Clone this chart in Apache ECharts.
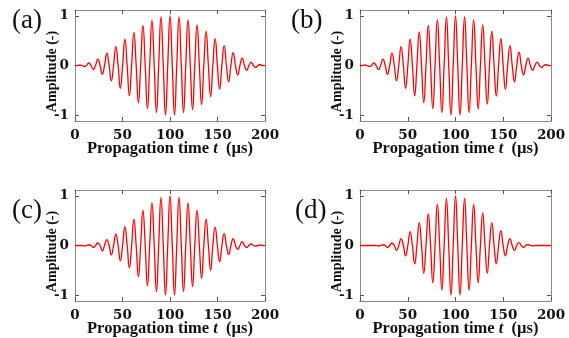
<!DOCTYPE html>
<html>
<head>
<meta charset="utf-8">
<script src="https://cdn.jsdelivr.net/npm/echarts@6/dist/echarts.min.js"></script>
<style>
  html, body { margin: 0; padding: 0; background: #fff; }
  #chart { width: 569px; height: 338px; }
</style>
</head>
<body>
<div id="chart"></div>
<script>
// times (µs) of the wave extrema
const extremaTimes = [0.25, 5, 9.75, 14.5, 19.25, 24, 28.75, 33.5, 38.25, 43, 47.75, 52.5, 57.25, 62, 66.75,
  71.5, 76.25, 81, 85.75, 90.5, 95.25, 100, 104.75, 109.5, 114.25, 119, 123.75, 128.5, 133.25, 138, 142.75,
  147.5, 152.25, 157, 161.75, 166.5, 171.25, 176, 180.75, 185.5, 190.25, 195, 199.75];
// zero crossings between them
const crossingTimes = [2.6, 7.4, 12.1, 16.9, 21.6, 26.4, 31.1, 35.9, 40.6, 45.4, 50.1, 54.9, 59.6, 64.4,
  69.1, 73.9, 78.6, 83.4, 88.1, 92.9, 97.6, 102.4, 107.1, 111.9, 116.6, 121.4, 126.1, 130.9, 135.6, 140.4,
  145.1, 149.9, 154.6, 159.4, 164.1, 168.9, 173.6, 178.4, 183.1, 187.9, 192.6, 197.4];

// amplitude at each extremum, one list per panel
const ampA = [0, 0.01, -0.02, 0.05, -0.08, 0.13, -0.18, 0.25, -0.31, 0.38, -0.46, 0.53, -0.61, 0.67, -0.75,
  0.81, -0.87, 0.91, -0.95, 0.98, -1.0, 1.0, -1.0, 0.98, -0.95, 0.92, -0.89, 0.82, -0.79, 0.69, -0.63,
  0.54, -0.48, 0.40, -0.33, 0.26, -0.19, 0.15, -0.10, 0.07, -0.04, 0.02, 0];
const ampB = [0, 0.01, -0.02, 0.05, -0.08, 0.13, -0.18, 0.25, -0.31, 0.38, -0.46, 0.53, -0.61, 0.68, -0.75,
  0.81, -0.87, 0.92, -0.95, 0.98, -1.0, 1.0, -1.0, 0.98, -0.95, 0.92, -0.88, 0.82, -0.78, 0.69, -0.62,
  0.54, -0.48, 0.40, -0.33, 0.27, -0.19, 0.15, -0.10, 0.07, -0.04, 0.02, 0];
const ampC = [0, 0, -0.01, 0.015, -0.04, 0.05, -0.11, 0.12, -0.19, 0.23, -0.31, 0.38, -0.45, 0.53, -0.63,
  0.71, -0.81, 0.86, -0.93, 0.97, -1.0, 1.0, -1.0, 0.97, -0.93, 0.86, -0.83, 0.71, -0.66, 0.53, -0.50,
  0.37, -0.33, 0.24, -0.18, 0.14, -0.08, 0.08, -0.04, 0.03, -0.01, 0.01, 0];
const ampD = [0, 0, 0, 0, -0.01, 0.015, -0.04, 0.05, -0.10, 0.14, -0.21, 0.28, -0.37, 0.46, -0.56,
  0.64, -0.75, 0.83, -0.90, 0.95, -1.0, 1.0, -1.0, 0.95, -0.90, 0.83, -0.75, 0.66, -0.56, 0.46, -0.37,
  0.30, -0.21, 0.14, -0.10, 0.06, -0.04, 0.02, -0.01, 0, 0, 0, 0];

const panelLabels = ["(a)", "(b)", "(c)", "(d)"];
const panelAmps = [ampA, ampB, ampC, ampD];
const yTickValues = [-1, 0, 1];

function waveData(amps) {
  const pts = [[0, 0]];
  extremaTimes.forEach((t, i) => {
    pts.push([t, amps[i]]);
    if (i < crossingTimes.length) pts.push([crossingTimes[i], 0]);
  });
  pts.push([200, 0]);
  return pts;
}

const grids = [
  { left: 75, top: 10, width: 190, height: 111 },
  { left: 360, top: 10, width: 191, height: 111 },
  { left: 75, top: 190, width: 190, height: 112 },
  { left: 360, top: 190, width: 191, height: 112 },
];
const labelPos = [[12, 7], [291, 7], [12, 197], [295, 197]];

const tickFont = { fontFamily: "DejaVu Serif", fontWeight: "bold", fontSize: 13.5, color: "#111" };
const titleFont = { fontFamily: "Liberation Serif", fontWeight: "bold", fontSize: 16.5, color: "#111" };
const frameLine = { show: true, onZero: false, lineStyle: { color: "#8a8a8a", width: 1 } };
const innerTick = { show: true, inside: true, length: 4, lineStyle: { color: "#555" } };

const xAxes = [];
const yAxes = [];
const series = [];

grids.forEach((g, i) => {
  xAxes.push({
    gridIndex: i, type: "value", position: "bottom", min: 0, max: 200, interval: 50,
    axisLine: frameLine, axisTick: innerTick, splitLine: { show: false },
    axisLabel: { ...tickFont, margin: 7 },
    name: "Propagation time {i|t}  (µs)", nameLocation: "middle", nameGap: 19,
    nameMoveOverlap: false,
    nameTextStyle: { ...titleFont, rich: { i: { ...titleFont, fontStyle: "italic" } } },
  });
  xAxes.push({
    gridIndex: i, type: "value", position: "top", min: 0, max: 200, interval: 50,
    axisLine: frameLine, axisTick: innerTick, axisLabel: { show: false }, splitLine: { show: false },
  });
  yAxes.push({
    gridIndex: i, type: "value", position: "left", min: -1.12, max: 1.12,
    axisLine: frameLine,
    axisTick: { ...innerTick, customValues: yTickValues },
    axisLabel: { ...tickFont, margin: 6, customValues: yTickValues },
    splitLine: { show: false },
    name: "Amplitude (-)", nameLocation: "middle", nameGap: 16,
    nameMoveOverlap: false,
    nameTextStyle: { ...titleFont, fontSize: 14, padding: [0, 12, 0, 0] },
  });
  yAxes.push({
    gridIndex: i, type: "value", position: "right", min: -1.12, max: 1.12,
    axisLine: frameLine,
    axisTick: { ...innerTick, customValues: yTickValues },
    axisLabel: { show: false }, splitLine: { show: false },
  });
  series.push({
    type: "line", xAxisIndex: 2 * i, yAxisIndex: 2 * i,
    data: waveData(panelAmps[i]),
    showSymbol: false, smooth: 0.5,
    lineStyle: { color: "#ff0000", width: 1.3 },
  });
});

const chart = echarts.init(document.getElementById("chart"));
chart.setOption({
  animation: false,
  backgroundColor: "#fff",
  grid: grids,
  xAxis: xAxes,
  yAxis: yAxes,
  series,
  graphic: panelLabels.map((txt, i) => ({
    type: "text", left: labelPos[i][0], top: labelPos[i][1],
    style: { text: txt, fontFamily: "Liberation Serif", fontSize: 27, fill: "#111" },
  })),
});
</script>
</body>
</html>
